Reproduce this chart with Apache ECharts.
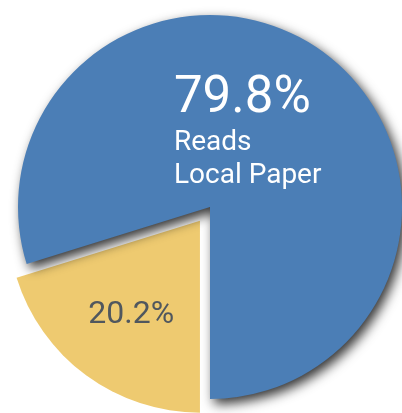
<!DOCTYPE html>
<html>
<head>
<meta charset="utf-8">
<style>
  html, body { margin: 0; padding: 0; background: #ffffff; }
  #chart { width: 402px; height: 413px; }
</style>
<script src="https://cdn.jsdelivr.net/npm/echarts@6/dist/echarts.min.js"></script>
</head>
<body>
<div id="chart"></div>
<script>
const categories = ['Does Not Read', 'Reads Local Paper'];
const values = [20.2, 79.8];
const labelLines = [[], ['Reads', 'Local Paper']];
const colors = ['#eeca70', '#4b7eb6'];

const chart = echarts.init(document.getElementById('chart'), null, { renderer: 'canvas' });

const data = categories.map(function (name, i) {
  const item = {
    name: name,
    value: values[i],
    itemStyle: { color: colors[i] }
  };
  if (i === 0) {
    item.selected = true;
    item.itemStyle.shadowBlur = 0;
    item.itemStyle.shadowColor = 'transparent';
    item.label = {
      formatter: function (p) { return '{s|' + p.value.toFixed(1) + '%}'; },
      rich: { s: { fontFamily: 'Roboto', fontSize: 32, color: '#50575e', lineHeight: 36 } }
    };
  } else {
    item.label = {
      formatter: function (p) {
        return '{b|' + p.value.toFixed(1) + '%}\n' +
          labelLines[i].map(function (t) { return '{t|' + t + '}'; }).join('\n');
      },
      rich: {
        b: { fontFamily: 'Roboto', fontSize: 51, color: '#ffffff', lineHeight: 54, align: 'left' },
        t: { fontFamily: 'Roboto', fontSize: 28, color: '#ffffff', lineHeight: 33, align: 'left' }
      }
    };
  }
  return item;
});

chart.setOption({
  animation: false,
  series: [{
    type: 'pie',
    center: [210, 207],
    radius: 192,
    startAngle: 270,
    clockwise: true,
    selectedMode: 'single',
    selectedOffset: 17,
    avoidLabelOverlap: false,
    label: { show: true, position: 'inside' },
    labelLine: { show: false },
    itemStyle: {
      shadowBlur: 12,
      shadowColor: 'rgba(0,0,0,0.8)',
      shadowOffsetX: 4,
      shadowOffsetY: 5
    },
    emphasis: { disabled: true },
    select: { itemStyle: {} },
    labelLayout: function (p) {
      if (p.dataIndex === 1) return { dx: -21, dy: 5 };
      return { dx: -10, dy: 15 };
    },
    data: data
  }]
});
</script>
</body>
</html>
